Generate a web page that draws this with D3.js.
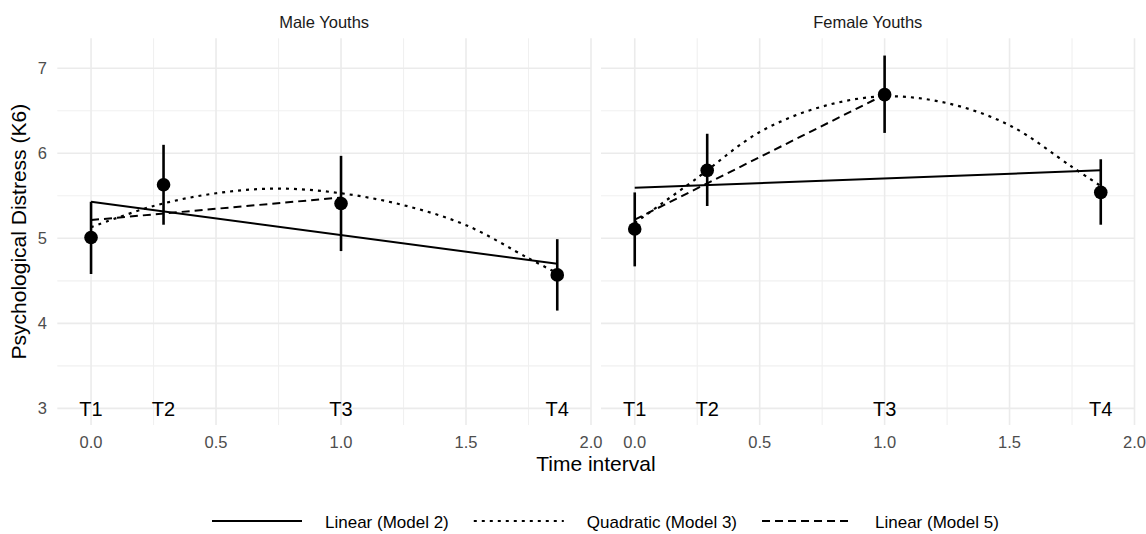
<!DOCTYPE html>
<html>
<head>
  <meta charset="utf-8">
  <title>Psychological distress by wave</title>
  <style>
    body { margin: 0; background: #fff; }
    svg { display: block; font-family: "Liberation Sans", Arial, sans-serif; }
  </style>
</head>
<body>
  <div id="chart"></div>

  <script src="https://cdn.jsdelivr.net/npm/d3@7"></script>
  <script type="text/javascript">

  var width = 1146, height = 534;

  // data
  var panels = ['Male Youths', 'Female Youths'];
  var waves = ['T1', 'T2', 'T3', 'T4'];
  var times = [0, 0.29, 1.0, 1.865];

  var maleMean = [5.01, 5.63, 5.41, 4.57];
  var maleLow  = [4.58, 5.16, 4.85, 4.15];
  var maleHigh = [5.43, 6.10, 5.97, 4.99];

  var femaleMean = [5.11, 5.80, 6.69, 5.54];
  var femaleLow  = [4.67, 5.38, 6.24, 5.16];
  var femaleHigh = [5.54, 6.23, 7.15, 5.93];

  // linear (model 2): fitted at first and last wave
  var linX = [0, 1.865];
  var maleLin2 = [5.43, 4.70];
  var femaleLin2 = [5.595, 5.80];

  // linear (model 5): T1 to T3 only
  var lin5X = [0, 1.0];
  var maleLin5 = [5.215, 5.48];
  var femaleLin5 = [5.22, 6.69];

  // quadratic (model 3)
  var quadX = [0, 0.25, 0.5, 0.75, 1.0, 1.25, 1.5, 1.75, 1.865];
  var maleQuad = [5.13, 5.38, 5.53, 5.585, 5.53, 5.39, 5.155, 4.765, 4.59];
  var femaleQuad = [5.18, 5.71, 6.25, 6.55, 6.67, 6.59, 6.33, 5.84, 5.615];

  var xTicks = [0, 0.5, 1.0, 1.5, 2.0];
  var xMinor = [0.25, 0.75, 1.25, 1.75];
  var yTicks = [3, 4, 5, 6, 7];
  var yMinor = [3.5, 4.5, 5.5, 6.5];

  var legendNames = ['Linear (Model 2)', 'Quadratic (Model 3)', 'Linear (Model 5)'];
  var dashes = ['none', '3,5', '8,5'];

  var series = [
    {mean: maleMean, low: maleLow, high: maleHigh, lin2: maleLin2, lin5: maleLin5, quad: maleQuad},
    {mean: femaleMean, low: femaleLow, high: femaleHigh, lin2: femaleLin2, lin5: femaleLin5, quad: femaleQuad}
  ];

  // note: "top" is taken by window.top, so panel edges get their own names
  var panelTop = 38.3, panelBottom = 425;
  var ranges = [[57.3, 591], [601, 1134.5]];

  var y = d3.scaleLinear().domain([2.804, 7.353]).range([panelBottom, panelTop]);

  var svg = d3.select('#chart')
              .append('svg')
              .attr('width', width)
              .attr('height', height);

  function pairs(xs, ys){
    return xs.map(function(v, i){ return [v, ys[i]]; });
  }

  panels.forEach(function(name, p){
    var x = d3.scaleLinear().domain([-0.135, 2.0]).range(ranges[p]);
    var d = series[p];
    var g = svg.append('g');
    var x0 = ranges[p][0], x1 = ranges[p][1];

    // grid
    g.selectAll('.ymin').data(yMinor).enter().append('line')
      .attr('x1', x0).attr('x2', x1)
      .attr('y1', function(v){ return y(v); }).attr('y2', function(v){ return y(v); })
      .style('stroke', '#f0f0f0').style('stroke-width', 1.1);
    g.selectAll('.xmin').data(xMinor).enter().append('line')
      .attr('x1', function(v){ return x(v); }).attr('x2', function(v){ return x(v); })
      .attr('y1', panelTop).attr('y2', panelBottom)
      .style('stroke', '#f0f0f0').style('stroke-width', 1.1);
    g.selectAll('.ymaj').data(yTicks).enter().append('line')
      .attr('x1', x0).attr('x2', x1)
      .attr('y1', function(v){ return y(v); }).attr('y2', function(v){ return y(v); })
      .style('stroke', '#ebebeb').style('stroke-width', 1.6);
    g.selectAll('.xmaj').data(xTicks).enter().append('line')
      .attr('x1', function(v){ return x(v); }).attr('x2', function(v){ return x(v); })
      .attr('y1', panelTop).attr('y2', panelBottom)
      .style('stroke', '#ebebeb').style('stroke-width', 1.6);

    // x tick labels
    g.selectAll('.xt').data(xTicks).enter().append('text')
      .attr('x', function(v){ return x(v); }).attr('y', 448)
      .attr('text-anchor', 'middle')
      .style('font-size', '16.5px').style('fill', '#4d4d4d')
      .text(function(t){ return d3.format('.1f')(t); });

    // strip title
    g.append('text')
      .attr('x', (x0 + x1) / 2).attr('y', 28)
      .attr('text-anchor', 'middle')
      .style('font-size', '16.5px').style('fill', '#1a1a1a')
      .text(name);

    // wave labels
    g.selectAll('.wave').data(waves).enter().append('text')
      .attr('x', function(w, i){ return x(times[i]); })
      .attr('y', y(3))
      .attr('dy', '0.36em')
      .attr('text-anchor', 'middle')
      .style('font-size', '20px').style('fill', '#000')
      .text(function(w){ return w; });

    var line = d3.line().x(function(v){ return x(v[0]); }).y(function(v){ return y(v[1]); });
    var curve = d3.line().curve(d3.curveCatmullRom)
                  .x(function(v){ return x(v[0]); }).y(function(v){ return y(v[1]); });

    // error bars
    g.selectAll('.err').data(times).enter().append('line')
      .attr('x1', function(t){ return x(t); }).attr('x2', function(t){ return x(t); })
      .attr('y1', function(t, i){ return y(d.low[i]); })
      .attr('y2', function(t, i){ return y(d.high[i]); })
      .style('stroke', '#000').style('stroke-width', 2.6);

    // model lines
    g.append('path').attr('d', line(pairs(linX, d.lin2)))
      .style('fill', 'none').style('stroke', '#000').style('stroke-width', 2);
    g.append('path').attr('d', curve(pairs(quadX, d.quad)))
      .style('fill', 'none').style('stroke', '#000').style('stroke-width', 2.2)
      .style('stroke-dasharray', dashes[1]);
    g.append('path').attr('d', line(pairs(lin5X, d.lin5)))
      .style('fill', 'none').style('stroke', '#000').style('stroke-width', 2)
      .style('stroke-dasharray', dashes[2]);

    // points
    g.selectAll('.pt').data(times).enter().append('circle')
      .attr('cx', function(t){ return x(t); })
      .attr('cy', function(t, i){ return y(d.mean[i]); })
      .attr('r', 6.8)
      .style('fill', '#000');
  });

  // y tick labels (left panel only)
  svg.selectAll('.yt').data(yTicks).enter().append('text')
    .attr('x', 47).attr('y', function(v){ return y(v); })
    .attr('dy', '0.36em')
    .attr('text-anchor', 'end')
    .style('font-size', '16.5px').style('fill', '#4d4d4d')
    .text(function(t){ return t; });

  // axis titles
  svg.append('text')
    .attr('transform', 'translate(26,' + ((panelTop + panelBottom) / 2) + ') rotate(-90)')
    .attr('text-anchor', 'middle')
    .style('font-size', '21px').style('fill', '#000')
    .text('Psychological Distress (K6)');

  svg.append('text')
    .attr('x', (ranges[0][0] + ranges[1][1]) / 2).attr('y', 471)
    .attr('text-anchor', 'middle')
    .style('font-size', '21px').style('fill', '#000')
    .text('Time interval');

  // legend
  var lx = 212, ly = 521;
  legendNames.forEach(function(n, i){
    svg.append('line')
      .attr('x1', lx).attr('x2', lx + 90)
      .attr('y1', ly).attr('y2', ly)
      .style('stroke', '#000').style('stroke-width', i == 1 ? 2.2 : 2)
      .style('stroke-dasharray', dashes[i]);
    var t = svg.append('text')
      .attr('x', lx + 113).attr('y', ly + 1)
      .attr('dy', '0.36em')
      .style('font-size', '17px').style('fill', '#000')
      .text(n);
    lx = lx + 113 + t.node().getComputedTextLength() + 25;
  });

  </script>
</body>
</html>
